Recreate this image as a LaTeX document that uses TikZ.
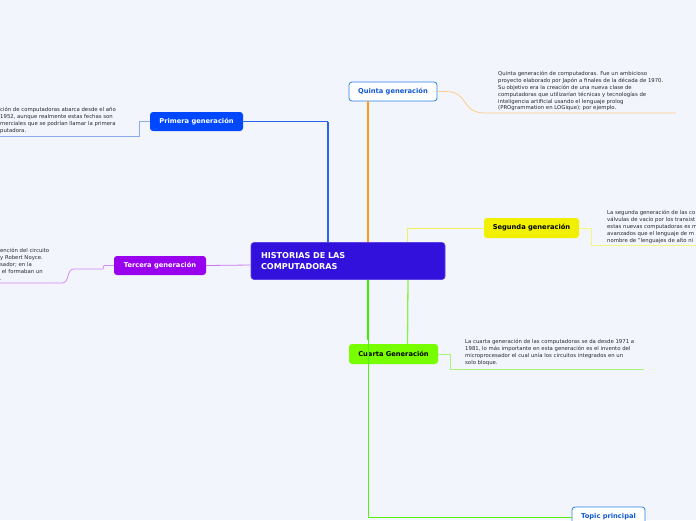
\documentclass[tikz,border=0pt]{standalone}
\usepackage{fontspec}
\setmainfont{DejaVu Sans}
\definecolor{bg}{RGB}{243,245,253}
\definecolor{central}{RGB}{51,17,221}
\definecolor{primc}{RGB}{0,72,255}
\definecolor{quinb}{RGB}{40,130,230}
\definecolor{quint}{RGB}{17,90,210}
\definecolor{segc}{RGB}{240,240,0}
\definecolor{terc}{RGB}{153,0,238}
\definecolor{cuac}{RGB}{119,255,0}
\definecolor{notegray}{RGB}{40,40,40}
\definecolor{lblue}{RGB}{40,100,240}
\definecolor{lorange}{RGB}{255,155,20}
\definecolor{lyellow}{RGB}{240,240,90}
\definecolor{lpurple}{RGB}{200,120,240}
\definecolor{lgreen}{RGB}{140,240,70}
\definecolor{bgreen}{RGB}{60,240,0}
\definecolor{ublue}{RGB}{140,170,240}
\definecolor{uorange}{RGB}{255,205,140}
\definecolor{uyellow}{RGB}{245,245,130}
\definecolor{upurple}{RGB}{205,140,245}
\definecolor{ugreen}{RGB}{170,245,120}
\tikzset{
  topicbox/.style={rounded corners=3pt, inner sep=0pt, align=center,
    font=\fontsize{6.7}{8}\selectfont\bfseries, minimum height=19pt},
  notetext/.style={font=\fontsize{5.35}{6.9}\selectfont, align=left,
    inner sep=0pt, anchor=north west, text=notegray},
}
\begin{document}
\begin{tikzpicture}[x=1pt,y=-1pt]
\useasboundingbox (0,0) rectangle (696,520);
\clip (0,0) rectangle (696,520);
\fill[bg] (0,0) rectangle (696,520);

% main nodes
\node[rounded corners=3pt, fill=central, draw=central!80!white, line width=0.6pt,
  text=white, font=\fontsize{8.1}{11.6}\selectfont\bfseries, align=left,
  text width=174pt, inner xsep=10pt, inner ysep=0pt, minimum height=37pt] (c) at (348,261)
  {HISTORIAS DE LAS\\COMPUTADORAS};
\node[topicbox, fill=primc, text=white, minimum width=93pt] (prim) at (196.5,121.5) {Primera generación};
\node[topicbox, fill=white, draw=quinb, line width=0.8pt, text=quint, minimum width=88pt] (quin) at (393,91.5) {Quinta generación};
\node[topicbox, fill=segc, text=black, minimum width=95pt, minimum height=20pt] (seg) at (531.5,228) {Segunda generación};
\node[topicbox, fill=terc, text=white, minimum width=92pt] (ter) at (160,265.5) {Tercera generación};
\node[topicbox, fill=cuac, text=black, minimum width=89pt, minimum height=20pt] (cua) at (393.5,354) {Cuarta Generación};
\node[topicbox, fill=white, draw=quinb, line width=0.8pt, text=quint, minimum width=73pt, minimum height=20pt] (top) at (608.5,517) {Topic principal};

% notes
\node[notetext] (nquin) at (498,71) {Quinta generación de computadoras. Fue un ambicioso\\
proyecto elaborado por Japón a finales de la década de 1970.\\
Su objetivo era la creación de una nueva clase de\\
computadoras que utilizarían técnicas y tecnologías de\\
inteligencia artificial usando el lenguaje prolog\\
(PROgrammation en LOGique); por ejemplo.};
\node[notetext] (nseg) at (607,210) {La segunda generación de las co\\
válvulas de vacío por los transist\\
estas nuevas computadoras es m\\
avanzados que el lenguaje de m\\
nombre de "lenguajes de alto ni};
\node[notetext] (nprim) at (0,107) {ción de computadoras abarca desde el año\\
1952, aunque realmente estas fechas son\\
merciales que se podrían llamar la primera\\
putadora.};
\node[notetext] (nter) at (0,248) {ención del circuito\\
y Robert Noyce.\\
sador; en la\\
\ el formaban un\\
.};
\node[notetext] (ncua) at (465,339) {La cuarta generación de las computadoras se da desde 1971 a\\
1981, lo más importante en esta generación es el invento del\\
microprocesador el cual unía los circuitos integrados en un\\
solo bloque.};

% connectors from central
\coordinate (pk) at ([xshift=-20pt]c.north |- prim.east);
\draw[lblue, line width=1.6pt] ([xshift=-20pt]c.north) -- (pk);
\draw[lblue, line width=0.7pt] (pk) -- (prim.east);
\draw[lorange, line width=1.3pt] ([xshift=20pt]c.north) -- ([xshift=20pt]c.north |- quin.south);
\draw[lyellow, line width=0.9pt] ([xshift=59pt]c.north) |- (seg.west);
\draw[lpurple, line width=0.8pt] ([yshift=-4pt]c.west) -- (ter.east);
\draw[lgreen, line width=1.3pt] ([xshift=60pt]c.south) -- ([xshift=14pt]cua.north);
\coordinate (tm) at ([xshift=20pt,yshift=-60pt]c.south);
\coordinate (tk) at ([xshift=20pt]c.south |- top.west);
\draw[bgreen, line width=1.5pt] ([xshift=20pt]c.south) -- (tm);
\draw[bgreen!70!lgreen, line width=0.8pt] (tm) -- (tk) -- (top.west);

% connectors to notes
\coordinate (qa) at (485,113);
\coordinate (qb) at (676,113);
\draw[uorange, line width=0.8pt] (quin.east) -- ++(8,0) .. controls (470,91.5) and (460,113) .. (qa) -- (qb);
\coordinate (sa) at (591,245);
\coordinate (sb) at (696,245);
\draw[uyellow, line width=0.8pt] (seg.east) -- (591,228) -- (sa) -- (sb);
\coordinate (pa) at (139,136);
\coordinate (pb) at (0,136);
\draw[ublue, line width=0.8pt] (prim.west) -- (139,121.5) -- (pa) -- (pb);
\coordinate (ta) at (62,283);
\coordinate (tb) at (0,283);
\draw[upurple, line width=0.8pt] (ter.west) -- (104,265.5) -- (103,269) -- (74,269)
  .. controls (66,269) and (70,283) .. (ta) -- (tb);
\coordinate (ca) at (450,369);
\coordinate (cb) at (644,369);
\draw[ugreen, line width=0.8pt] (cua.east) -- (450,354) -- (ca) -- (cb);
\end{tikzpicture}
\end{document}
